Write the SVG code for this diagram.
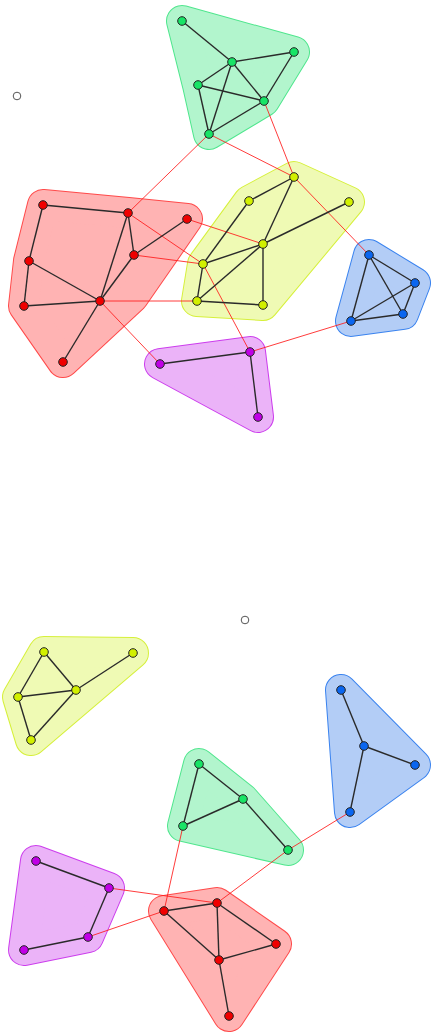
<svg xmlns="http://www.w3.org/2000/svg" width="431" height="1034" viewBox="0 0 431 1034">
<style>
.hull use{stroke-linejoin:round}
.hull .o{stroke-width:32}
.hull .f{stroke-width:30}
.green .o{fill:#b2f5cd;stroke:#4fe68d}.green .f{fill:#b2f5cd;stroke:#b2f5cd}
.red .o{fill:#ffb3b3;stroke:#ff4a4a}.red .f{fill:#ffb3b3;stroke:#ffb3b3}
.yellow .o{fill:#effab4;stroke:#d6f03a}.yellow .f{fill:#effab4;stroke:#effab4}
.blue .o{fill:#b3cdf6;stroke:#3a83ef}.blue .f{fill:#b3cdf6;stroke:#b3cdf6}
.purple .o{fill:#ebb3f8;stroke:#cc3ded}.purple .f{fill:#ebb3f8;stroke:#ebb3f8}
.in line{stroke:#2a2a2a;stroke-width:1.4}
.out line{stroke:#ff1a1a;stroke-width:1;stroke-opacity:0.85}
.n circle{stroke:#222;stroke-width:1}
.ng circle{fill:#18e466}.nr circle{fill:#f00000}.ny circle{fill:#d2f000}.nb circle{fill:#0a66f0}.np circle{fill:#c000e6}
.empty{fill:#fff;stroke:#555;stroke-width:1}
</style>
<defs>
<polygon id="hg1" points="182,21 294,52 264,101 209,134 198,85"/>
<polygon id="hr1" points="43,205 128,213 187,219 133,297 63,362 24,306 29,261"/>
<polygon id="hy1" points="294,177 349,202 263,305 197,301 203,264 249,201"/>
<polygon id="hb1" points="369,255 415,283 403,314 351,321"/>
<polygon id="hp1" points="160,364 250,352 258,417"/>
<polygon id="hy2" points="44,652 133,653 31,740 18,697"/>
<polygon id="hb2" points="341,690 415,765 350,812"/>
<polygon id="hg2" points="199,764 243,799 288,850 183,826"/>
<polygon id="hp2" points="36,861 109,888 88,937 24,950"/>
<polygon id="hr2" points="164,911 217,903 276,944 229,1016"/>
</defs>
<g id="hulls">
<g id="hull-green-top" class="hull green"><use href="#hg1" class="o"/><use href="#hg1" class="f"/></g>
<g id="hull-red-top" class="hull red"><use href="#hr1" class="o"/><use href="#hr1" class="f"/></g>
<g id="hull-yellow-top" class="hull yellow"><use href="#hy1" class="o"/><use href="#hy1" class="f"/></g>
<g id="hull-blue-top" class="hull blue"><use href="#hb1" class="o"/><use href="#hb1" class="f"/></g>
<g id="hull-purple-top" class="hull purple"><use href="#hp1" class="o"/><use href="#hp1" class="f"/></g>
<g id="hull-yellow-bottom" class="hull yellow"><use href="#hy2" class="o"/><use href="#hy2" class="f"/></g>
<g id="hull-blue-bottom" class="hull blue"><use href="#hb2" class="o"/><use href="#hb2" class="f"/></g>
<g id="hull-green-bottom" class="hull green"><use href="#hg2" class="o"/><use href="#hg2" class="f"/></g>
<g id="hull-purple-bottom" class="hull purple"><use href="#hp2" class="o"/><use href="#hp2" class="f"/></g>
<g id="hull-red-bottom" class="hull red"><use href="#hr2" class="o"/><use href="#hr2" class="f"/></g>
</g>
<g id="connectors">
<g class="out">
<line x1="209" y1="134" x2="128" y2="213"/>
<line x1="209" y1="134" x2="294" y2="177"/>
<line x1="264" y1="101" x2="294" y2="177"/>
<line x1="294" y1="177" x2="369" y2="255"/>
<line x1="128" y1="213" x2="203" y2="264"/>
<line x1="187" y1="219" x2="263" y2="244"/>
<line x1="134" y1="255" x2="203" y2="264"/>
<line x1="100" y1="301" x2="197" y2="301"/>
<line x1="100" y1="301" x2="160" y2="364"/>
<line x1="203" y1="264" x2="250" y2="352"/>
<line x1="250" y1="352" x2="351" y2="321"/>
<line x1="109" y1="888" x2="217" y2="903"/>
<line x1="88" y1="937" x2="164" y2="911"/>
<line x1="183" y1="826" x2="164" y2="911"/>
<line x1="288" y1="850" x2="217" y2="903"/>
<line x1="350" y1="812" x2="288" y2="850"/>
</g>
<g class="in">
<line x1="182" y1="21" x2="232" y2="62"/>
<line x1="232" y1="62" x2="294" y2="52"/>
<line x1="232" y1="62" x2="198" y2="85"/>
<line x1="232" y1="62" x2="264" y2="101"/>
<line x1="232" y1="62" x2="209" y2="134"/>
<line x1="294" y1="52" x2="264" y2="101"/>
<line x1="198" y1="85" x2="264" y2="101"/>
<line x1="198" y1="85" x2="209" y2="134"/>
<line x1="264" y1="101" x2="209" y2="134"/>
<line x1="43" y1="205" x2="128" y2="213"/>
<line x1="43" y1="205" x2="29" y2="261"/>
<line x1="128" y1="213" x2="134" y2="255"/>
<line x1="128" y1="213" x2="100" y2="301"/>
<line x1="29" y1="261" x2="100" y2="301"/>
<line x1="29" y1="261" x2="24" y2="306"/>
<line x1="24" y1="306" x2="100" y2="301"/>
<line x1="100" y1="301" x2="63" y2="362"/>
<line x1="100" y1="301" x2="134" y2="255"/>
<line x1="134" y1="255" x2="187" y2="219"/>
<line x1="294" y1="177" x2="249" y2="201"/>
<line x1="294" y1="177" x2="263" y2="244"/>
<line x1="249" y1="201" x2="203" y2="264"/>
<line x1="349" y1="202" x2="263" y2="244"/>
<line x1="263" y1="244" x2="203" y2="264"/>
<line x1="263" y1="244" x2="197" y2="301"/>
<line x1="263" y1="244" x2="263" y2="305"/>
<line x1="203" y1="264" x2="197" y2="301"/>
<line x1="197" y1="301" x2="263" y2="305"/>
<line x1="369" y1="255" x2="415" y2="283"/>
<line x1="369" y1="255" x2="403" y2="314"/>
<line x1="369" y1="255" x2="351" y2="321"/>
<line x1="415" y1="283" x2="351" y2="321"/>
<line x1="415" y1="283" x2="403" y2="314"/>
<line x1="403" y1="314" x2="351" y2="321"/>
<line x1="160" y1="364" x2="250" y2="352"/>
<line x1="250" y1="352" x2="258" y2="417"/>
<line x1="44" y1="652" x2="76" y2="690"/>
<line x1="44" y1="652" x2="18" y2="697"/>
<line x1="133" y1="653" x2="76" y2="690"/>
<line x1="76" y1="690" x2="18" y2="697"/>
<line x1="76" y1="690" x2="31" y2="740"/>
<line x1="18" y1="697" x2="31" y2="740"/>
<line x1="341" y1="690" x2="364" y2="746"/>
<line x1="364" y1="746" x2="415" y2="765"/>
<line x1="364" y1="746" x2="350" y2="812"/>
<line x1="199" y1="764" x2="243" y2="799"/>
<line x1="199" y1="764" x2="183" y2="826"/>
<line x1="243" y1="799" x2="183" y2="826"/>
<line x1="243" y1="799" x2="288" y2="850"/>
<line x1="36" y1="861" x2="109" y2="888"/>
<line x1="109" y1="888" x2="88" y2="937"/>
<line x1="88" y1="937" x2="24" y2="950"/>
<line x1="164" y1="911" x2="217" y2="903"/>
<line x1="164" y1="911" x2="219" y2="960"/>
<line x1="217" y1="903" x2="219" y2="960"/>
<line x1="217" y1="903" x2="276" y2="944"/>
<line x1="276" y1="944" x2="219" y2="960"/>
<line x1="219" y1="960" x2="229" y2="1016"/>
</g>
</g>
<g id="nodes">
<g id="green-top" class="n ng">
<circle cx="182" cy="21" r="4.3"/><circle cx="232" cy="62" r="4.3"/><circle cx="294" cy="52" r="4.3"/><circle cx="198" cy="85" r="4.3"/><circle cx="264" cy="101" r="4.3"/><circle cx="209" cy="134" r="4.3"/>
</g>
<g id="red-top" class="n nr">
<circle cx="43" cy="205" r="4.3"/><circle cx="128" cy="213" r="4.3"/><circle cx="187" cy="219" r="4.3"/><circle cx="134" cy="255" r="4.3"/><circle cx="29" cy="261" r="4.3"/><circle cx="100" cy="301" r="4.3"/><circle cx="24" cy="306" r="4.3"/><circle cx="63" cy="362" r="4.3"/>
</g>
<g id="yellow-top" class="n ny">
<circle cx="294" cy="177" r="4.3"/><circle cx="249" cy="201" r="4.3"/><circle cx="349" cy="202" r="4.3"/><circle cx="263" cy="244" r="4.3"/><circle cx="203" cy="264" r="4.3"/><circle cx="197" cy="301" r="4.3"/><circle cx="263" cy="305" r="4.3"/>
</g>
<g id="blue-top" class="n nb">
<circle cx="369" cy="255" r="4.3"/><circle cx="415" cy="283" r="4.3"/><circle cx="403" cy="314" r="4.3"/><circle cx="351" cy="321" r="4.3"/>
</g>
<g id="purple-top" class="n np">
<circle cx="160" cy="364" r="4.3"/><circle cx="250" cy="352" r="4.3"/><circle cx="258" cy="417" r="4.3"/>
</g>
<g id="yellow-bottom" class="n ny">
<circle cx="44" cy="652" r="4.3"/><circle cx="133" cy="653" r="4.3"/><circle cx="76" cy="690" r="4.3"/><circle cx="18" cy="697" r="4.3"/><circle cx="31" cy="740" r="4.3"/>
</g>
<g id="blue-bottom" class="n nb">
<circle cx="341" cy="690" r="4.3"/><circle cx="364" cy="746" r="4.3"/><circle cx="415" cy="765" r="4.3"/><circle cx="350" cy="812" r="4.3"/>
</g>
<g id="green-bottom" class="n ng">
<circle cx="199" cy="764" r="4.3"/><circle cx="243" cy="799" r="4.3"/><circle cx="183" cy="826" r="4.3"/><circle cx="288" cy="850" r="4.3"/>
</g>
<g id="purple-bottom" class="n np">
<circle cx="36" cy="861" r="4.3"/><circle cx="109" cy="888" r="4.3"/><circle cx="88" cy="937" r="4.3"/><circle cx="24" cy="950" r="4.3"/>
</g>
<g id="red-bottom" class="n nr">
<circle cx="164" cy="911" r="4.3"/><circle cx="217" cy="903" r="4.3"/><circle cx="276" cy="944" r="4.3"/><circle cx="219" cy="960" r="4.3"/><circle cx="229" cy="1016" r="4.3"/>
</g>
<g id="empty-top"><circle class="empty" cx="17" cy="96" r="3.8"/></g>
<g id="empty-bottom"><circle class="empty" cx="245" cy="620" r="3.8"/></g>
</g>
</svg>
